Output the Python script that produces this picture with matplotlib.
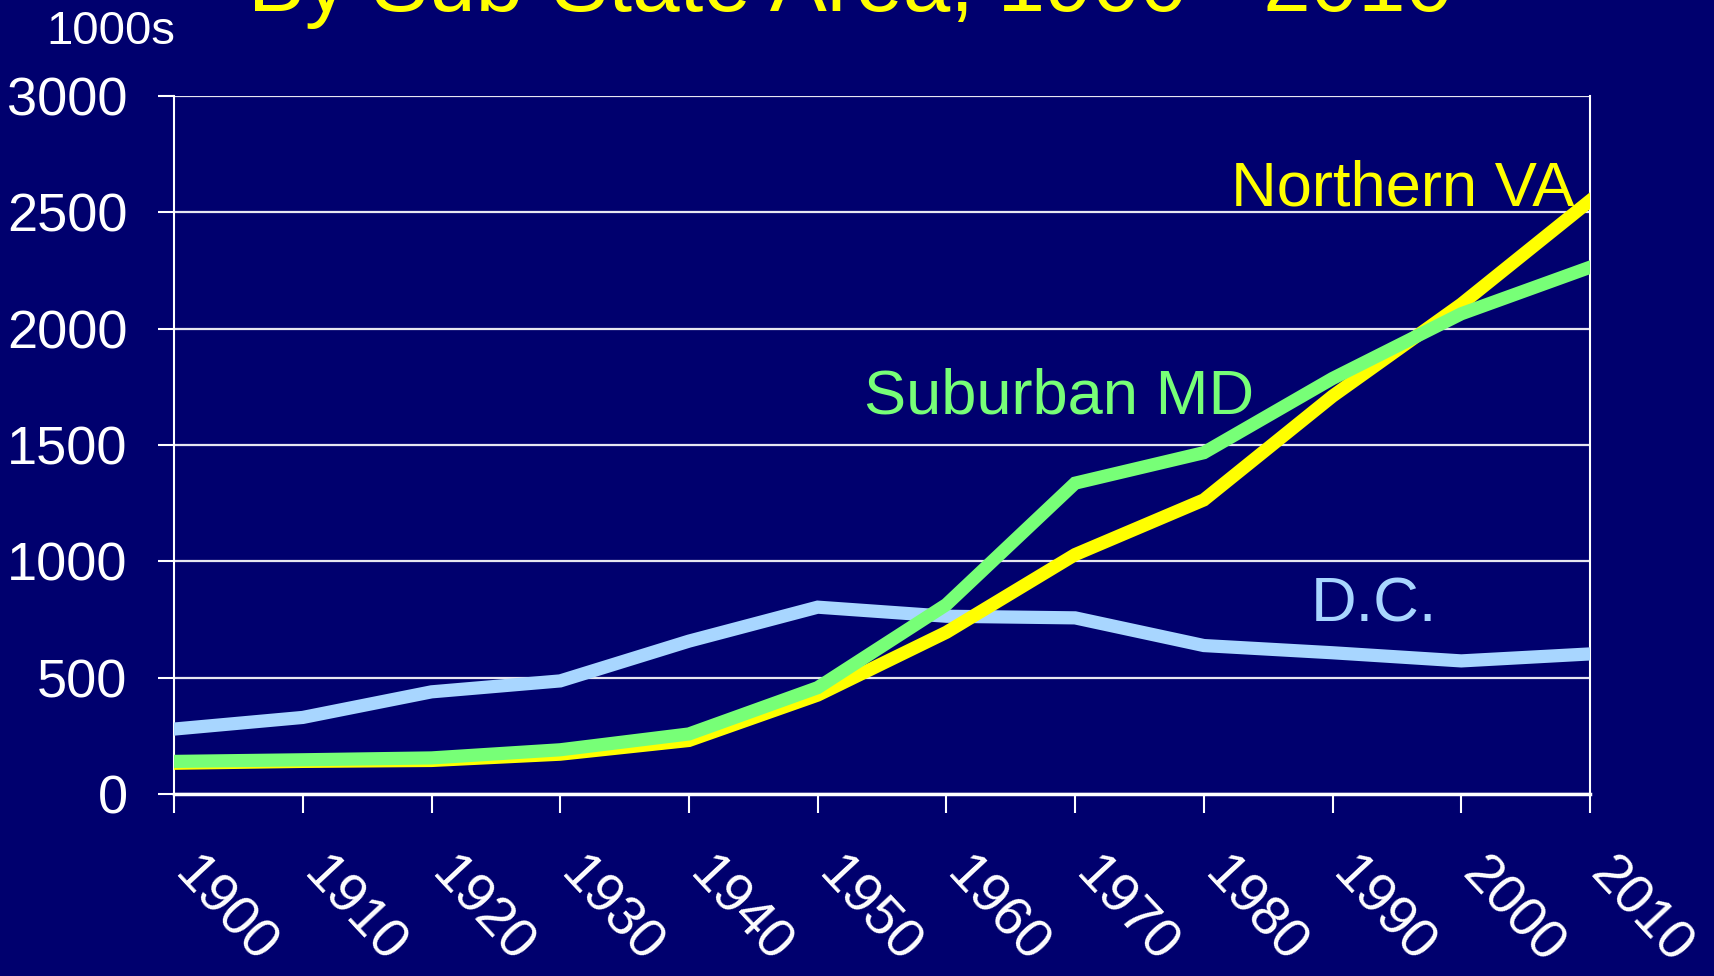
import matplotlib
matplotlib.use("Agg")
import matplotlib.pyplot as plt
from matplotlib.transforms import ScaledTranslation

years = [1900, 1910, 1920, 1930, 1940, 1950, 1960, 1970, 1980, 1990, 2000, 2010]
dc = [279, 329, 439, 486, 657, 803, 764, 757, 638, 607, 572, 602]
northern_va = [132, 140, 144, 171, 230, 425, 695, 1029, 1264, 1710, 2105, 2550]
suburban_md = [140, 147, 155, 190, 258, 457, 814, 1336, 1467, 1786, 2064, 2264]
y_ticks = [0, 500, 1000, 1500, 2000, 2500, 3000]
x_tick_labels = [str(y) for y in years]

BG = "#00006E"
DC_C = "#A8D6FF"
VA_C = "#FFFF00"
MD_C = "#77FF77"

plt.rcParams['font.family'] = ['Liberation Sans', 'DejaVu Sans']

fig = plt.figure(figsize=(17.15, 9.76), dpi=100, facecolor=BG)
ax = fig.add_axes([0.1015, 0.1865, 0.9271 - 0.1015, 0.9016 - 0.1865])
ax.set_facecolor(BG)

LW = 9.5
ax.plot(years, dc, color=DC_C, lw=LW, solid_joinstyle='miter', zorder=3)
ax.plot(years, northern_va, color=VA_C, lw=LW, solid_joinstyle='miter', zorder=4)
ax.plot(years, suburban_md, color=MD_C, lw=LW, solid_joinstyle='miter', zorder=5)

ax.set_xlim(1900, 2010)
ax.set_ylim(0, 3000)
ax.set_yticks(y_ticks)
ax.set_yticklabels([str(v) for v in y_ticks])
ax.set_xticks(years)

ax.grid(axis='y', color='#E6E6F0', lw=1.6, zorder=1)
ax.set_axisbelow(True)

for side in ['left', 'right']:
    ax.spines[side].set_color('white')
    ax.spines[side].set_linewidth(1.5)
ax.spines['bottom'].set_color('white')
ax.spines['bottom'].set_linewidth(2.5)
ax.spines['top'].set_visible(False)

ax.tick_params(axis='y', colors='white', labelsize=39, length=11.5, width=1.5,
               pad=22, direction='out')
ax.tick_params(axis='x', colors='white', labelsize=40, length=14, width=1.5,
               pad=45, direction='out')
ax.set_xticklabels(x_tick_labels, rotation=-47, ha='left', va='baseline',
                   rotation_mode='anchor')
shift = ScaledTranslation(-0.02, 0, fig.dpi_scale_trans)
for lab in ax.get_xticklabels():
    lab.set_transform(lab.get_transform() + shift)

ax.text(2008.8, 2530, "Northern VA", color=VA_C, fontsize=45.5,
        ha='right', va='baseline', zorder=6)
ax.text(1953.6, 1636, "Suburban MD", color=MD_C, fontsize=45.5,
        ha='left', va='baseline', zorder=6)
ax.text(1988.3, 743, "D.C.", color=DC_C, fontsize=45.5,
        ha='left', va='baseline', zorder=6)

fig.text(0.496, 0.9885, "By Sub-State Area, 1900 - 2010", color=VA_C,
         fontsize=61.5, ha='center', va='baseline')
fig.text(0.0268, 0.955, "1000s", color='white', fontsize=34,
         ha='left', va='baseline')

fig.savefig("out.png", dpi=100, facecolor=BG)
